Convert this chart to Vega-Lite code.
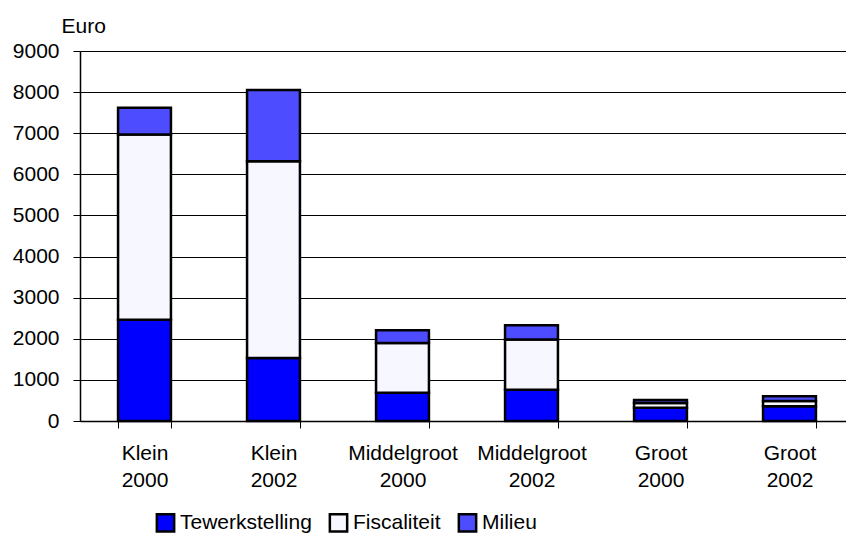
{
  "$schema": "https://vega.github.io/schema/vega-lite/v6.json",
  "width": 766,
  "height": 370,
  "autosize": {"type": "none"},
  "padding": {"left": 80, "top": 51, "right": 0, "bottom": 115},
  "background": "white",
  "config": {
    "font": "Liberation Sans",
    "view": {"stroke": null}
  },
  "data": {
    "values": [
      {"cat": "Klein\n2000", "idx": 1, "serie": "Tewerkstelling", "ord": 1, "v": 2460},
      {"cat": "Klein\n2000", "idx": 1, "serie": "Fiscaliteit", "ord": 2, "v": 4510},
      {"cat": "Klein\n2000", "idx": 1, "serie": "Milieu", "ord": 3, "v": 650},
      {"cat": "Klein\n2002", "idx": 2, "serie": "Tewerkstelling", "ord": 1, "v": 1530},
      {"cat": "Klein\n2002", "idx": 2, "serie": "Fiscaliteit", "ord": 2, "v": 4790},
      {"cat": "Klein\n2002", "idx": 2, "serie": "Milieu", "ord": 3, "v": 1730},
      {"cat": "Middelgroot\n2000", "idx": 3, "serie": "Tewerkstelling", "ord": 1, "v": 690},
      {"cat": "Middelgroot\n2000", "idx": 3, "serie": "Fiscaliteit", "ord": 2, "v": 1210},
      {"cat": "Middelgroot\n2000", "idx": 3, "serie": "Milieu", "ord": 3, "v": 310},
      {"cat": "Middelgroot\n2002", "idx": 4, "serie": "Tewerkstelling", "ord": 1, "v": 760},
      {"cat": "Middelgroot\n2002", "idx": 4, "serie": "Fiscaliteit", "ord": 2, "v": 1220},
      {"cat": "Middelgroot\n2002", "idx": 4, "serie": "Milieu", "ord": 3, "v": 350},
      {"cat": "Groot\n2000", "idx": 5, "serie": "Tewerkstelling", "ord": 1, "v": 320},
      {"cat": "Groot\n2000", "idx": 5, "serie": "Fiscaliteit", "ord": 2, "v": 120},
      {"cat": "Groot\n2000", "idx": 5, "serie": "Milieu", "ord": 3, "v": 70},
      {"cat": "Groot\n2002", "idx": 6, "serie": "Tewerkstelling", "ord": 1, "v": 360},
      {"cat": "Groot\n2002", "idx": 6, "serie": "Fiscaliteit", "ord": 2, "v": 125},
      {"cat": "Groot\n2002", "idx": 6, "serie": "Milieu", "ord": 3, "v": 120}
    ]
  },
  "mark": {"type": "bar", "stroke": "black", "strokeWidth": 2.5},
  "encoding": {
    "x": {
      "field": "cat",
      "type": "nominal",
      "sort": {"field": "idx"},
      "scale": {"range": [0, 774], "paddingInner": 0.59, "paddingOuter": 0.295},
      "axis": {
        "title": null,
        "labelAngle": 0,
        "labelExpr": "split(datum.label, '\\n')",
        "labelFontSize": 21,
        "labelColor": "black",
        "labelLineHeight": 27,
        "labelPadding": 14,
        "tickBand": "extent",
        "tickSize": 7,
        "tickColor": "black",
        "domainColor": "black",
        "domainWidth": 1.5,
        "grid": false
      }
    },
    "y": {
      "field": "v",
      "type": "quantitative",
      "stack": "zero",
      "scale": {"domain": [0, 9000], "nice": false},
      "axis": {
        "title": "Euro",
        "titleAngle": 0,
        "titleAlign": "left",
        "titleBaseline": "alphabetic",
        "titleX": -19,
        "titleY": -19,
        "titleFontSize": 21,
        "titleFontWeight": "normal",
        "titleColor": "black",
        "values": [0, 1000, 2000, 3000, 4000, 5000, 6000, 7000, 8000, 9000],
        "format": "d",
        "labelFontSize": 21,
        "labelColor": "black",
        "labelPadding": 14,
        "tickSize": 7,
        "tickColor": "black",
        "domainColor": "black",
        "domainWidth": 1.5,
        "grid": true,
        "gridColor": "black",
        "gridOpacity": 1,
        "gridWidth": 1.2
      }
    },
    "color": {
      "field": "serie",
      "type": "nominal",
      "scale": {
        "domain": ["Tewerkstelling", "Fiscaliteit", "Milieu"],
        "range": ["#0000FF", "#F7F7FF", "#4D4DFF"]
      },
      "legend": {
        "title": null,
        "orient": "none",
        "legendX": 75,
        "legendY": 461,
        "direction": "horizontal",
        "padding": 0,
        "symbolType": "square",
        "symbolSize": 300,
        "symbolStrokeColor": "black",
        "symbolStrokeWidth": 2.5,
        "symbolOpacity": 1,
        "labelFontSize": 21,
        "labelColor": "black",
        "labelOffset": 4,
        "columnPadding": 12
      }
    },
    "order": {"field": "ord", "type": "quantitative"}
  }
}
